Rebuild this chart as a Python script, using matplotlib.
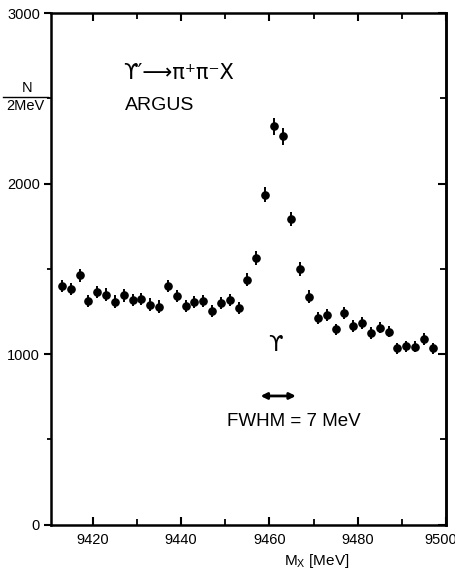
import numpy as np
import matplotlib.pyplot as plt
from matplotlib.lines import Line2D
from matplotlib.ticker import MultipleLocator
from matplotlib.transforms import ScaledTranslation

plt.rcParams['font.family'] = ['Liberation Sans', 'DejaVu Sans']
plt.rcParams['mathtext.fontset'] = 'custom'
plt.rcParams['mathtext.rm'] = 'Liberation Sans'
plt.rcParams['mathtext.it'] = 'Liberation Sans'

# invariant mass bins (2 MeV wide), counts per bin and errors
mass = np.arange(9413, 9498, 2)
counts = [1400, 1381, 1463, 1310, 1363, 1349, 1308, 1345, 1318, 1322,
          1290, 1278, 1400, 1341, 1281, 1306, 1310, 1253, 1298, 1318,
          1272, 1435, 1562, 1934, 2335, 2276, 1792, 1498, 1337, 1210,
          1231, 1145, 1239, 1163, 1181, 1122, 1155, 1131, 1035, 1045,
          1043, 1088, 1035]
errors = [37, 37, 38, 36, 37, 37, 36, 37, 36, 36,
          36, 36, 37, 37, 36, 36, 36, 35, 36, 36,
          36, 38, 40, 44, 48, 48, 42, 39, 37, 35,
          35, 34, 35, 34, 34, 34, 34, 34, 32, 32,
          32, 33, 32]

x_ticks = [9420, 9440, 9460, 9480, 9500]
y_ticks = [0, 1000, 2000, 3000]

fig = plt.figure(figsize=(4.56, 5.71), dpi=100)
ax = fig.add_axes([0.1118, 0.0814, 0.866, 0.8958])

ax.errorbar(mass, counts, yerr=errors, fmt='o', color='black', ms=5.2,
            elinewidth=1.4, capsize=0)

ax.set_xlim(9410.5, 9500)
ax.set_ylim(0, 3000)
ax.set_xticks(x_ticks)
ax.set_yticks(y_ticks)
ax.xaxis.set_minor_locator(MultipleLocator(10))
ax.yaxis.set_minor_locator(MultipleLocator(500))

for s in ax.spines.values():
    s.set_linewidth(1.8)

ax.tick_params(axis='x', which='both', direction='in', top=True, labelsize=10.5, pad=6)
ax.tick_params(axis='x', which='major', length=6, width=1.5)
ax.tick_params(axis='x', which='minor', length=4, width=1.3)
ax.tick_params(axis='y', which='both', direction='out', labelsize=10.5, pad=3)
ax.tick_params(axis='y', which='major', length=5, width=1.5)
ax.tick_params(axis='y', which='minor', length=3, width=1.3)
ax2 = ax.secondary_yaxis('right')
ax2.set_yticks(y_ticks)
ax2.yaxis.set_minor_locator(MultipleLocator(500))
ax2.tick_params(axis='y', which='both', direction='in', labelright=False)
ax2.tick_params(axis='y', which='major', length=6, width=1.5)
ax2.tick_params(axis='y', which='minor', length=4, width=1.3)
ax2.spines['right'].set_linewidth(1.8)

# keep the last x label inside the figure
last = ax.get_xticklabels()[-1]
last.set_transform(last.get_transform() + ScaledTranslation(-5 / 100, 0, fig.dpi_scale_trans))

# y label as a fraction
fig.text(27 / 456, 1 - 88 / 571, 'N', ha='center', va='center', fontsize=10.5)
fig.add_artist(Line2D([3 / 456, 48 / 456], [1 - 97 / 571, 1 - 97 / 571],
                      color='black', lw=1.0))
fig.text(25 / 456, 1 - 106 / 571, '2MeV', ha='center', va='center', fontsize=10.5)

# x label
fig.text(317 / 456, 1 - 561 / 571, r'M$_\mathrm{X}$ [MeV]', ha='center', va='center',
         fontsize=11)

# annotations
ax.text(9426.9, 2648, '\u03d2\u2032\u27f6\u03c0\u207a\u03c0\u207bX', fontsize=15,
        va='center', ha='left', family='DejaVu Sans')
ax.text(9427.3, 2460, 'ARGUS', fontsize=14, va='center', ha='left')
ax.text(9461.4, 1053, '\u03d2', fontsize=15, ha='center', va='center',
        family='DejaVu Sans')
ax.annotate('', xy=(9458.0, 754), xytext=(9466.0, 754),
            arrowprops=dict(arrowstyle='<|-|>', color='black', lw=2,
                            mutation_scale=9, shrinkA=0, shrinkB=0))
ax.text(9450.5, 607, 'FWHM = 7 MeV', fontsize=13.5, ha='left', va='center')

fig.savefig('out.png', dpi=100)
